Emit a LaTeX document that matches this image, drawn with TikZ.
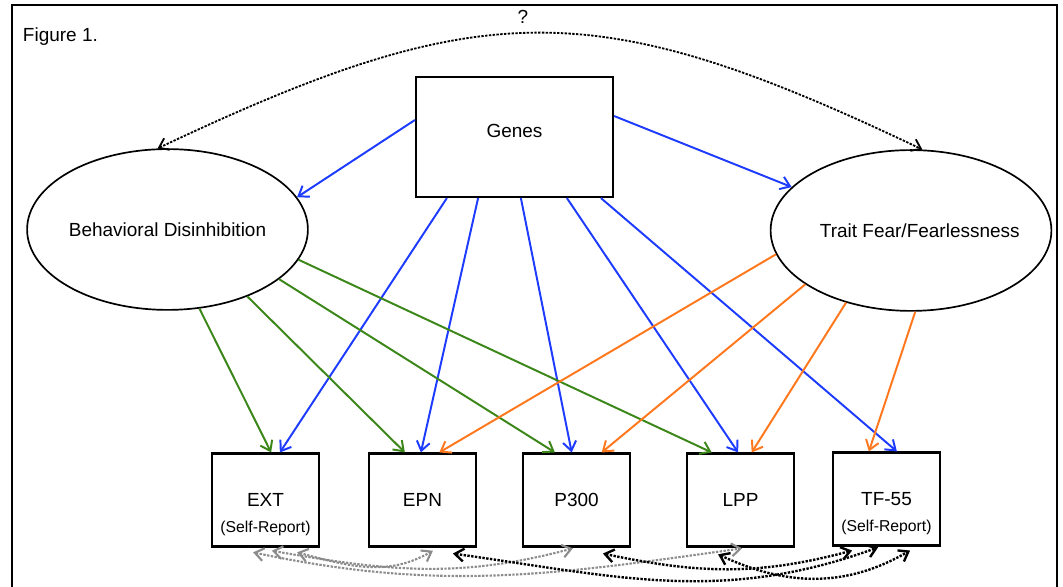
\documentclass[tikz,border=0pt]{standalone}
\usepackage{fontspec}
\setmainfont{Liberation Sans}
\usetikzlibrary{arrows.meta,shapes.geometric}
\definecolor{genesblue}{RGB}{30,60,255}
\definecolor{bdgreen}{RGB}{60,135,25}
\definecolor{tforange}{RGB}{255,120,30}

\begin{document}
\begin{tikzpicture}[
	lbl/.style={font=\fontsize{13.5}{16}\selectfont},
	latent/.style={lbl,draw,line width=1.2pt,ellipse,minimum width=7.02cm,minimum height=4.02cm,inner sep=0pt},
	measure/.style={lbl,draw,line width=1.5pt,minimum width=2.675cm,minimum height=2.325cm},
	selfrep/.style={font=\fontsize{11.2}{13}\selectfont,yshift=-0.72cm},
	path/.style={line width=1.4pt,-{Straight Barb[length=2.3mm,width=3.3mm]}},
	covar/.style={line width=1.7pt,densely dotted,{Straight Barb[length=2.2mm,width=3.2mm]}-{Straight Barb[length=2.2mm,width=3.2mm]}}
	]
				\useasboundingbox (0,0) rectangle (26.575,14.675);
				\draw[line width=1pt] (0.3,-0.2) -- (0.3,14.55) -- (26.425,14.55) -- (26.425,-0.2);
				\node[lbl,anchor=west] (fig) at (0.45,13.75) {Figure 1.};
				
				% Genes and the two traits
				\node[lbl,draw,line width=1.5pt,minimum width=4.925cm,minimum height=3cm,label={[lbl,yshift=0.15cm]center:Genes}] (genes) at (12.8625,11.25) {};
				\node[latent] (bd) at (4.1875,8.9375) {Behavioral Disinhibition};
				\node[latent,label={[lbl,xshift=0.22cm]center:Trait Fear/Fearlessness}] (tf) at (22.775,8.9125) {};
				
				% Measures
				\node[measure,label={[selfrep]center:(Self-Report)}] (ext) at (6.6375,2.175) {EXT};
				\node[measure] (epn) at (10.5625,2.175) {EPN};
				\node[measure] (p300) at (14.4125,2.175) {P300};
				\node[measure] (lpp) at (18.5125,2.175) {LPP};
				\node[measure,label={[selfrep]center:(Self-Report)}] (tfs) at (22.1625,2.2) {TF-55};
				
				% Unknown link between the traits
				\draw[covar,line width=1.3pt] (bd.97) .. controls (12.1,14.82) and (14.9,14.82) .. (tf.82);
				\node[lbl] (q) at (13.075,14.25) {?};
				
				% Genes paths
				\draw[path,genesblue] ([yshift=0.425cm]genes.west) -- (bd.14);
				\draw[path,genesblue] ([yshift=0.525cm]genes.east) -- (tf.160);
				\foreach \from/\to/\dx in {-1.69/ext/0.36, -0.91/epn/-0.04, 0.16/p300/-0.12, 1.31/lpp/-0.06, 2.16/tfs/0.26} {
					\draw[path,genesblue] ([xshift=\from cm]genes.south) -- ([xshift=\dx cm]\to.north);
				}
				
				% Behavioral disinhibition paths
				\foreach \ang/\to/\dx in {-68/ext/0.14, -40/epn/-0.44, -24/p300/-0.54, -13/lpp/-0.72} {
					\draw[path,bdgreen] (bd.\ang) -- ([xshift=\dx cm]\to.north);
				}
				
				% Trait fear paths
				\foreach \ang/\to/\dx in {190/epn/0.42, 207/p300/0.63, 228/lpp/0.28, 273/tfs/-0.44} {
					\draw[path,tforange] (tf.\ang) -- ([xshift=\dx cm]\to.north);
				}
				
				% Covariances between measures
				\draw[covar,black!45,line width=1.5pt] ([xshift=0.79cm,yshift=-0.12cm]ext.south) to[out=-15,in=-150] ([xshift=0.26cm,yshift=-0.08cm]epn.south);
				\draw[covar,black!45,line width=1.5pt] ([xshift=0.16cm,yshift=-0.08cm]ext.south) to[out=-10,in=-165] ([xshift=-0.09cm,yshift=-0.02cm]p300.south);
				\draw[covar,black!45,line width=1.5pt] ([xshift=-0.31cm,yshift=-0.12cm]ext.south) to[out=-12,in=-172] ([xshift=0.04cm,yshift=-0.02cm]lpp.south);
				\draw[covar] ([xshift=0.76cm,yshift=-0.15cm]epn.south) to[out=-8,in=-160] ([xshift=-0.21cm,yshift=-0.02cm]tfs.south);
				\draw[covar] ([xshift=0.66cm,yshift=-0.15cm]p300.south) to[out=-12,in=-165] ([xshift=-0.86cm,yshift=-0.1cm]tfs.south);
				\draw[covar] ([xshift=-0.56cm,yshift=-0.17cm]lpp.south) to[out=-25,in=-150] ([xshift=0.59cm,yshift=-0.1cm]tfs.south);
\end{tikzpicture}
\end{document}
